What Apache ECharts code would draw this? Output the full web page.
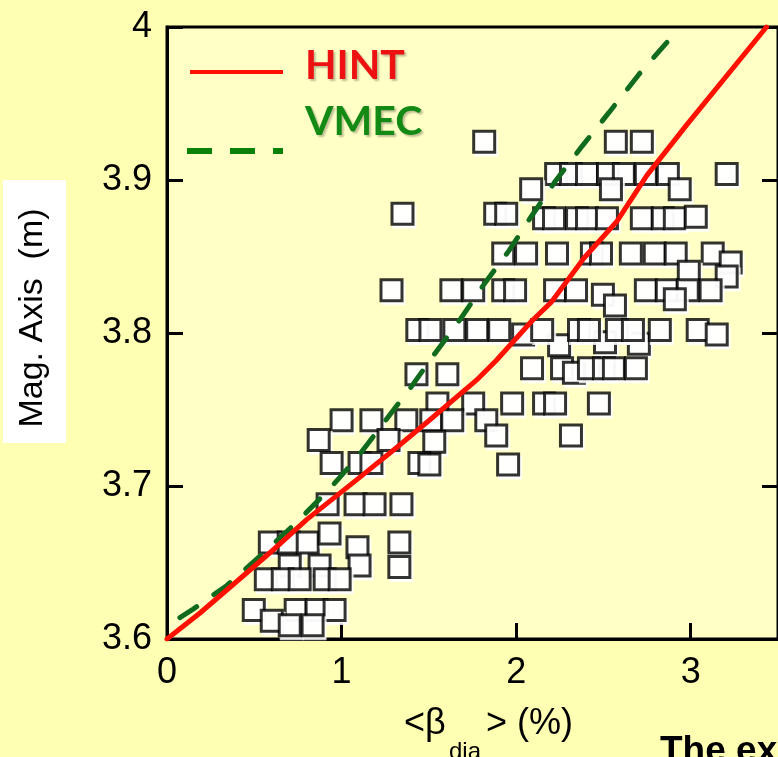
<!DOCTYPE html>
<html>
<head>
<meta charset="utf-8">
<script src="https://cdn.jsdelivr.net/npm/echarts@6/dist/echarts.min.js"></script>
<style>
  html, body { margin: 0; padding: 0; background: #FFFFB3; }
  #chart { width: 778px; height: 757px; }
</style>
</head>
<body>
<div id="chart"></div>
<script>
// Axis ranges and tick spacing
const xRange = [0, 3.5];
const yRange = [3.6, 4.0];
const xStep = 1;
const yStep = 0.1;

// HINT equilibrium curve: magnetic axis position versus diamagnetic beta
const hintBeta = [0, 0.189, 0.434, 0.606, 0.8, 1.086, 1.314, 1.503, 1.771, 1.886, 2.091, 2.2, 2.389, 2.577, 2.749, 2.977, 3.434];
const hintAxis = [3.6, 3.617, 3.641, 3.658, 3.678, 3.704, 3.725, 3.743, 3.769, 3.782, 3.808, 3.820, 3.849, 3.873, 3.903, 3.936, 4.0];

// VMEC equilibrium curve
const vmecBeta = [0.074, 0.143, 0.343, 0.531, 0.731, 0.914, 1.086, 1.246, 1.394, 1.537, 1.68, 1.817, 1.96, 2.086, 2.223, 2.377, 2.531, 2.703, 2.903];
const vmecAxis = [3.614, 3.619, 3.635, 3.654, 3.675, 3.696, 3.718, 3.742, 3.764, 3.787, 3.809, 3.832, 3.854, 3.876, 3.899, 3.922, 3.944, 3.969, 3.995];

// Measured shots: diamagnetic beta (%) and magnetic axis (m)
const shotBeta = [
  1.817, 2.571, 2.720,
  2.229, 2.314, 2.406, 2.526, 2.617, 2.743, 2.869, 3.206,
  2.086, 2.543, 2.937,
  1.349, 1.880, 1.943, 2.160, 2.217, 2.349, 2.406, 2.520, 2.720, 2.840, 2.909, 3.029,
  1.926, 2.057, 2.234, 2.434, 2.486, 2.657, 2.794, 2.914, 3.126, 3.229,
  2.989, 3.206,
  1.286, 1.629, 1.754, 1.926, 1.994, 2.223, 2.343, 2.497, 2.566, 2.743, 2.863, 2.983, 3.114, 2.909,
  2.246, 2.703, 2.509,
  1.434, 1.509, 1.646, 1.777, 1.903, 2.040, 2.149, 2.360, 2.417, 2.577, 2.669, 2.823, 3.040, 3.149,
  2.091, 2.263, 2.331, 2.417, 2.503, 2.560, 2.686,
  1.429, 1.606,
  1.549, 1.754, 1.977, 2.160, 2.223, 2.474,
  1.000, 1.171, 1.371, 1.514, 1.634, 1.829,
  0.869, 1.269, 1.531, 1.886, 2.314,
  0.943, 1.103, 1.171, 1.446, 1.503, 1.954,
  0.920, 1.080, 1.189, 1.343,
  0.589, 0.697, 0.806, 0.931, 1.091, 1.331,
  0.703, 0.874, 1.103, 1.331,
  0.566, 0.663, 0.760, 0.903, 0.989,
  0.497, 0.737, 0.857, 0.960,
  0.600, 0.703, 0.834
];
const shotAxis = [
  3.925, 3.925, 3.925,
  3.904, 3.904, 3.904, 3.904, 3.904, 3.904, 3.904, 3.904,
  3.894, 3.894, 3.894,
  3.878, 3.878, 3.878, 3.875, 3.875, 3.875, 3.875, 3.875, 3.875, 3.875, 3.875, 3.876,
  3.852, 3.852, 3.852, 3.852, 3.852, 3.852, 3.852, 3.852, 3.852, 3.846,
  3.840, 3.837,
  3.828, 3.828, 3.828, 3.828, 3.828, 3.828, 3.828, 3.825, 3.818, 3.828, 3.828, 3.828, 3.828, 3.822,
  3.792, 3.793, 3.794,
  3.802, 3.802, 3.802, 3.802, 3.802, 3.799, 3.802, 3.802, 3.802, 3.802, 3.802, 3.802, 3.802, 3.799,
  3.777, 3.777, 3.774, 3.777, 3.777, 3.777, 3.777,
  3.773, 3.773,
  3.754, 3.754, 3.754, 3.754, 3.754, 3.754,
  3.743, 3.743, 3.743, 3.743, 3.743, 3.743,
  3.730, 3.730, 3.729, 3.733, 3.733,
  3.715, 3.715, 3.715, 3.715, 3.714, 3.714,
  3.688, 3.688, 3.688, 3.688,
  3.663, 3.663, 3.663, 3.669, 3.660, 3.663,
  3.648, 3.648, 3.648, 3.647,
  3.639, 3.639, 3.639, 3.639, 3.639,
  3.619, 3.619, 3.619, 3.619,
  3.612, 3.609, 3.609
];

const zip = (a, b) => a.map((v, i) => [v, b[i]]);

const BG_OUTER = '#FFFFB3';
const BG_PLOT = '#FFFFC6';
const TICK_FONT = '"Liberation Sans", Arial, sans-serif';

const chart = echarts.init(document.getElementById('chart'), null, { renderer: 'canvas' });

const axisCommon = {
  type: 'value',
  axisLine: { show: true, lineStyle: { color: '#000', width: 3 } },
  axisTick: { show: true, inside: true, length: 16, lineStyle: { color: '#000', width: 3 } },
  splitLine: { show: false }
};

chart.setOption({
  backgroundColor: BG_OUTER,
  animation: false,
  grid: {
    left: 167, right: -2, top: 27, bottom: 118,
    show: true, backgroundColor: BG_PLOT, borderColor: '#000', borderWidth: 3
  },
  xAxis: Object.assign({}, axisCommon, {
    min: xRange[0], max: xRange[1], interval: xStep,
    axisLabel: { color: '#000', fontSize: 36, fontFamily: TICK_FONT, margin: 16, showMaxLabel: false }
  }),
  yAxis: [
    Object.assign({}, axisCommon, {
      min: yRange[0], max: yRange[1], interval: yStep,
      axisLabel: { color: '#000', fontSize: 36, fontFamily: TICK_FONT, margin: 15 }
    }),
    Object.assign({}, axisCommon, {
      position: 'right',
      min: yRange[0], max: yRange[1], interval: yStep,
      axisLabel: { show: false }
    })
  ],
  series: [
    {
      name: 'Experiment',
      type: 'scatter',
      data: zip(shotBeta, shotAxis),
      symbol: 'rect',
      symbolSize: 21,
      silent: true,
      itemStyle: {
        color: '#fff', borderColor: '#000', borderWidth: 3,
        shadowColor: '#fff', shadowBlur: 0, shadowOffsetX: 2, shadowOffsetY: 3
      }
    },
    {
      name: 'VMEC',
      type: 'line',
      data: zip(vmecBeta, vmecAxis),
      showSymbol: false,
      symbol: 'none',
      silent: true,
      lineStyle: { color: '#116b1e', width: 5, type: [20, 21], cap: 'round' }
    },
    {
      name: 'HINT',
      type: 'line',
      data: zip(hintBeta, hintAxis),
      showSymbol: false,
      symbol: 'none',
      silent: true,
      lineStyle: { color: '#ff1000', width: 5, cap: 'round', join: 'round' }
    }
  ],
  graphic: [
    // legend
    { type: 'line', shape: { x1: 190, y1: 72, x2: 283, y2: 72 }, style: { stroke: '#ff1000', lineWidth: 4 } },
    { type: 'text', x: 305, y: 66, style: {
        text: 'HINT', fill: '#ee1111', font: 'bold 41px Lato, sans-serif', verticalAlign: 'middle',
        textShadowColor: 'rgba(0,0,0,0.25)', textShadowOffsetX: 2, textShadowOffsetY: 2, textShadowBlur: 2 } },
    { type: 'line', shape: { x1: 187, y1: 151, x2: 283, y2: 151 }, style: { stroke: '#0a820a', lineWidth: 6, lineDash: [25, 18] } },
    { type: 'text', x: 305, y: 122, style: {
        text: 'VMEC', fill: '#138a13', font: 'bold 41px Lato, sans-serif', verticalAlign: 'middle',
        textShadowColor: 'rgba(0,0,0,0.25)', textShadowOffsetX: 2, textShadowOffsetY: 2, textShadowBlur: 2 } },
    // y axis title on white panel
    { type: 'rect', shape: { x: 3, y: 180, width: 63, height: 263 }, style: { fill: '#fff' } },
    { type: 'text', x: 33, y: 318, rotation: Math.PI / 2, style: {
        text: 'Mag. Axis  (m)', fill: '#000', font: '34px "Liberation Sans", Arial, sans-serif',
        align: 'center', verticalAlign: 'middle' } },
    // x axis title: <β_dia> (%)
    { type: 'text', x: 404, y: 724, style: {
        text: '<β', fill: '#000', font: '36px "Liberation Sans", Arial, sans-serif', verticalAlign: 'middle' } },
    { type: 'text', x: 449, y: 752, style: {
        text: 'dia', fill: '#000', font: '24px "Liberation Sans", Arial, sans-serif', verticalAlign: 'middle' } },
    { type: 'text', x: 486, y: 724, style: {
        text: '> (%)', fill: '#000', font: '36px "Liberation Sans", Arial, sans-serif', verticalAlign: 'middle' } },
    // caption running off the bottom edge
    { type: 'text', x: 660, y: 752, style: {
        text: 'The experimental data', fill: '#000', font: 'bold 37px "Liberation Sans", Arial, sans-serif', verticalAlign: 'middle' } }
  ]
});
</script>
</body>
</html>
